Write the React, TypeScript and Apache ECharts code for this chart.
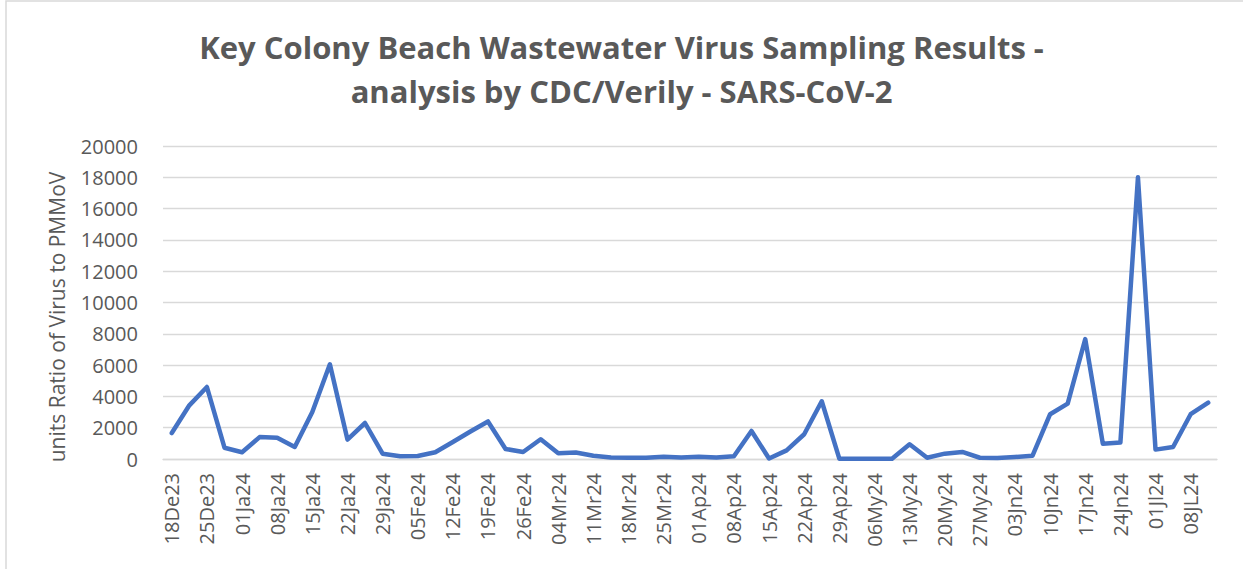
import React, { useEffect, useRef } from "react";
import * as echarts from "echarts";

const categories: string[] = [
  "18De23", "21De23", "25De23", "28De23", "01Ja24", "04Ja24", "08Ja24", "11Ja24",
  "15Ja24", "18Ja24", "22Ja24", "25Ja24", "29Ja24", "01Fe24", "05Fe24", "08Fe24",
  "12Fe24", "15Fe24", "19Fe24", "22Fe24", "26Fe24", "29Fe24", "04Mr24", "07Mr24",
  "11Mr24", "14Mr24", "18Mr24", "21Mr24", "25Mr24", "28Mr24", "01Ap24", "04Ap24",
  "08Ap24", "11Ap24", "15Ap24", "18Ap24", "22Ap24", "25Ap24", "29Ap24", "02My24",
  "06My24", "09My24", "13My24", "16My24", "20My24", "23My24", "27My24", "30My24",
  "03Jn24", "06Jn24", "10Jn24", "13Jn24", "17Jn24", "20Jn24", "24Jn24", "27Jn24",
  "01Jl24", "04Jl24", "08JL24", "11Jl24",
];

const virusRatio: number[] = [
  1660, 3430, 4600, 720, 430, 1400, 1360, 770,
  3000, 6050, 1240, 2300, 340, 170, 190, 430,
  1090, 1760, 2400, 640, 450, 1260, 360, 420,
  210, 90, 80, 80, 150, 100, 150, 100,
  170, 1790, 30, 550, 1580, 3690, 20, 20,
  20, 20, 940, 80, 340, 450, 80, 60,
  130, 210, 2860, 3540, 7660, 980, 1050, 18000,
  600, 770, 2860, 3600,
];

const titleLines: string[] = [
  "Key Colony Beach Wastewater Virus Sampling Results -",
  "analysis by CDC/Verily - SARS-CoV-2",
];
const yAxisTitle = "units Ratio of Virus to PMMoV";

const TEXT = "#595959";
const GRID = "#d9d9d9";
const FONT = "'Open Sans', 'Noto Sans', sans-serif";

export default function App() {
  const ref = useRef<HTMLDivElement>(null);

  useEffect(() => {
    if (!ref.current) return;
    const chart = echarts.init(ref.current, undefined, { renderer: "svg" });
    chart.setOption({
      animation: false,
      backgroundColor: "#ffffff",
      title: {
        text: titleLines.join("\n"),
        left: "center",
        top: 20,
        textStyle: {
          fontFamily: FONT,
          fontWeight: "bold",
          fontSize: 31,
          lineHeight: 44,
          color: TEXT,
        },
      },
      graphic: [
        {
          type: "rect",
          shape: { x: 6, y: 1, width: 1300, height: 700 },
          style: { fill: "none", stroke: GRID, lineWidth: 1.5 },
          silent: true,
          z: -1,
        },
        {
          type: "text",
          x: 57,
          y: 317,
          rotation: Math.PI / 2,
          style: {
            text: yAxisTitle,
            font: `21px ${FONT}`,
            fill: TEXT,
            align: "center",
            verticalAlign: "middle",
          },
        },
      ],
      grid: { left: 163, right: 26, top: 146, bottom: 110, containLabel: false },
      xAxis: {
        type: "category",
        data: categories,
        boundaryGap: true,
        axisLine: { show: true, lineStyle: { color: GRID, width: 1.3 } },
        axisTick: { show: false },
        axisLabel: {
          interval: 1,
          rotate: 90,
          margin: 14,
          color: TEXT,
          fontSize: 20,
          fontFamily: FONT,
        },
      },
      yAxis: {
        type: "value",
        min: 0,
        max: 20000,
        interval: 2000,
        axisLine: { show: false },
        axisTick: { show: false },
        splitLine: { show: true, lineStyle: { color: GRID, width: 1.3 } },
        axisLabel: {
          margin: 25,
          color: TEXT,
          fontSize: 20,
          fontFamily: FONT,
          formatter: (v: number) => String(v),
        },
      },
      series: [
        {
          type: "line",
          data: virusRatio,
          symbol: "none",
          lineStyle: { color: "#4472C4", width: 4.5, join: "round", cap: "round" },
        },
      ],
    });
    return () => chart.dispose();
  }, []);

  return (
    <div
      ref={ref}
      style={{ position: "fixed", left: 0, top: 0, width: 1243, height: 569 }}
    />
  );
}
